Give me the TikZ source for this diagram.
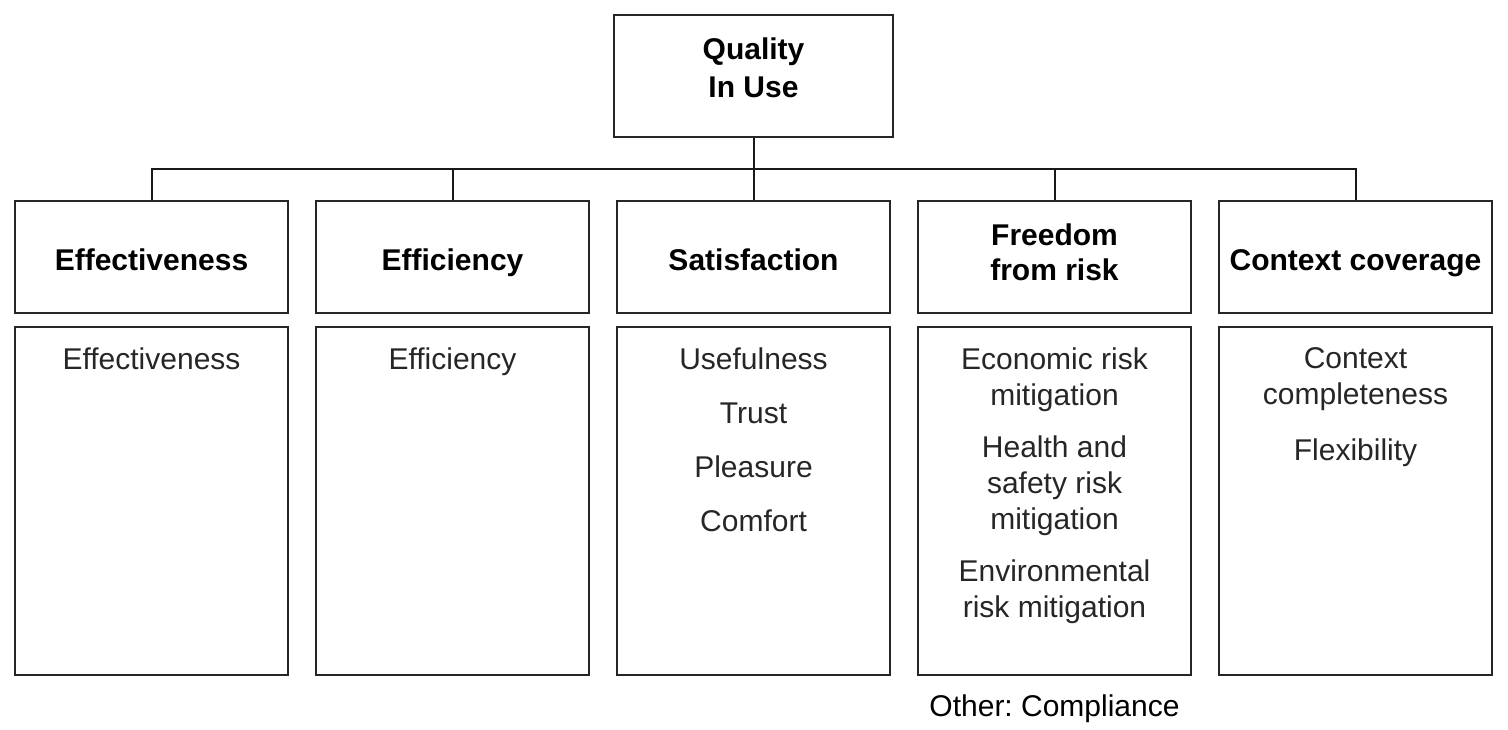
\documentclass[tikz,border=0pt]{standalone}
\usepackage{fontspec}
\setmainfont{Liberation Sans}
\usepackage{tikz}
\usetikzlibrary{positioning}
\frenchspacing
\tikzset{
  topbox/.style={rectangle, draw=black!85, line width=1pt,
                 minimum width=139.5pt, minimum height=61pt, text depth=8pt,
                 align=center, font=\fontsize{15}{19}\selectfont\bfseries},
  catbox/.style={rectangle, draw=black!85, line width=1pt, inner sep=2pt,
                 minimum width=136.5pt, minimum height=56pt,
                 execute at begin node={\rule{0pt}{18.4pt}},
                 execute at end node=\strut,
                 align=center, font=\fontsize{15}{17.5}\selectfont\bfseries},
  subbox/.style={rectangle, draw=black!85, line width=1pt,
                 minimum width=136.5pt, minimum height=174pt},
  subtxt/.style={inner sep=0pt, align=center, text=black!85,
                 font=\fontsize{15}{18}\selectfont},
  link/.style={line width=1pt, draw=black!90},
}
\begin{document}
\begin{tikzpicture}[x=0.5pt, y=-0.5pt]
  \useasboundingbox (0,0) rectangle (1508,729);
  % root
  \node[topbox] (qiu) at (753.5,76) {Quality\\In Use};
  % characteristics
  \node[catbox] (eff) at (151.5,257) {Effectiveness};
  \node[catbox, right=13pt of eff]  (effc) {Efficiency};
  \node[catbox, right=13pt of effc] (sat)  {Satisfaction};
  \node[catbox, right=13pt of sat]  (free) {Freedom\\from risk};
  \node[catbox, right=13pt of free] (ctx)  {Context coverage};
  % sub-characteristic boxes
  \foreach \c in {eff,effc,sat,free,ctx}
    \node[subbox, below=6pt of \c] (\c L) {};
  % sub-characteristics
  \node[subtxt, below=10.5pt of effL.north]  (effT)  {Effectiveness};
  \node[subtxt, below=10.5pt of effcL.north] (effcT) {Efficiency};
  \node[subtxt, below=10.5pt of satL.north]  (satT)
    {Usefulness\\[9pt]Trust\\[9pt]Pleasure\\[9pt]Comfort};
  \node[subtxt, below=10.5pt of freeL.north] (freeT)
    {Economic risk\\mitigation\\[8pt]Health and\\safety risk\\mitigation\\[8pt]Environmental\\risk mitigation};
  \node[subtxt, below=10.5pt of ctxL.north]  (ctxT)
    {Context\\completeness\\[10pt]Flexibility};
  % tree links
  \coordinate (bus) at (753.5,169);
  \draw[link] (qiu.south) -- (bus);
  \foreach \c in {eff,effc,sat,free,ctx}
    \draw[link] (bus) -| (\c.north);
  % note
  \node[subtxt, text=black, below=9pt of freeL.south] (other) {Other: Compliance};
\end{tikzpicture}
\end{document}
